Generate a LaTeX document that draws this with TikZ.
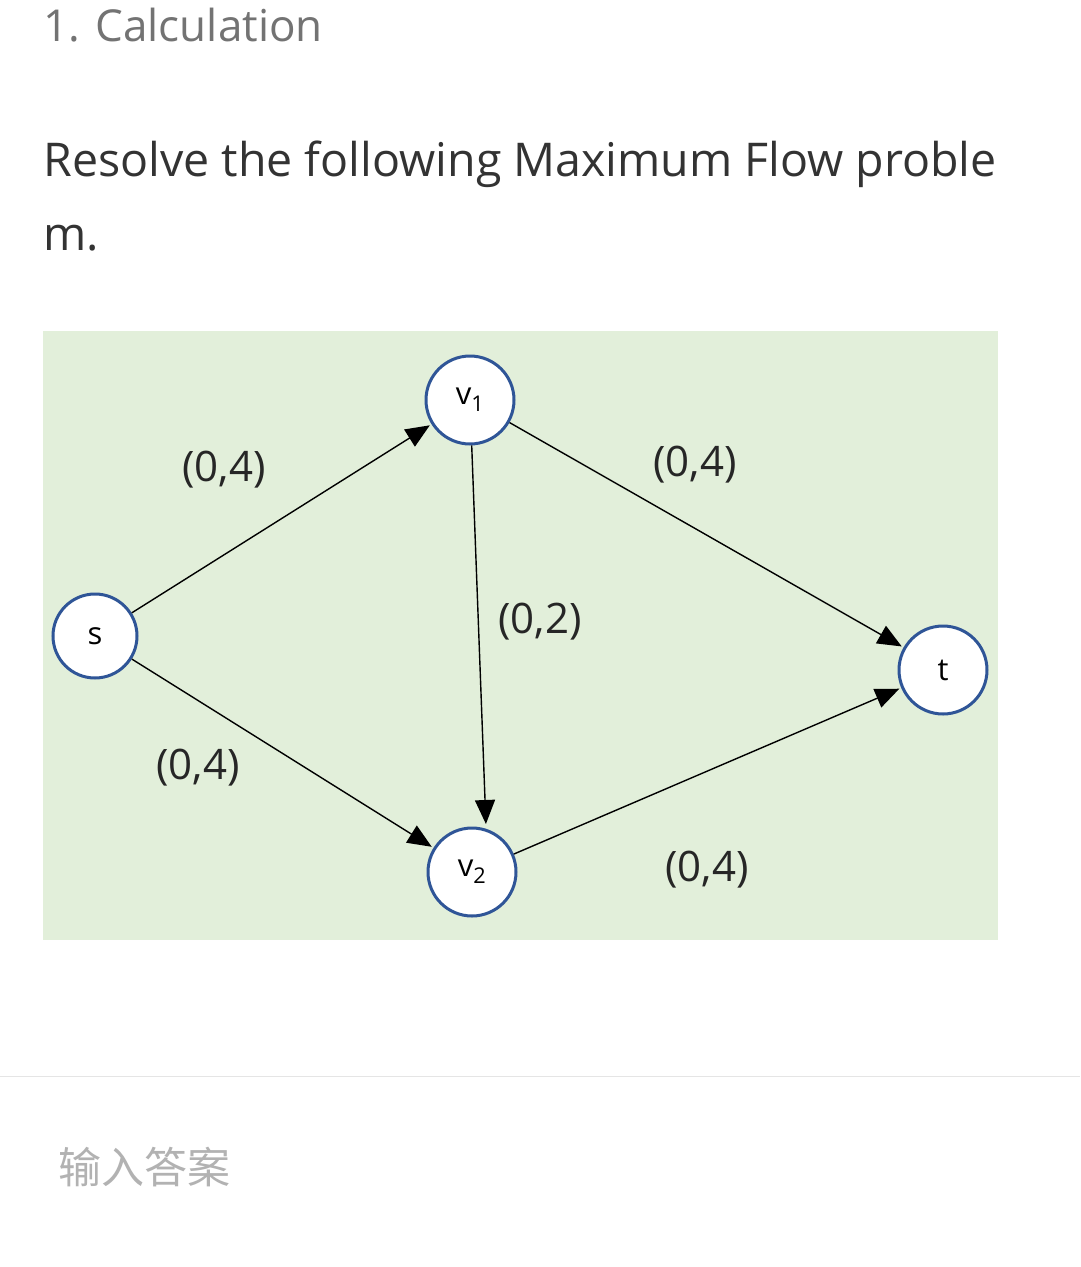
\documentclass[tikz,border=0pt]{standalone}
\usepackage{fontspec}
\setmainfont{Open Sans}
\newfontfamily\cjk{Noto Sans CJK SC}
\usetikzlibrary{arrows.meta}
\definecolor{bg}{HTML}{E2EFDA}
\definecolor{nb}{HTML}{2F5597}
\begin{document}
\begin{tikzpicture}[x=1pt,y=-1pt,
  vtx/.style={circle,draw=nb,line width=3pt,fill=white,minimum size=88pt,inner sep=0pt,font=\fontsize{31}{33}\selectfont},
  edge/.style={line width=1.4pt,-{Triangle[length=24pt,width=20pt]},shorten >=2pt},
  lbl/.style={font=\fontsize{42}{46}\selectfont,text=black!85}]
\useasboundingbox (0,0) rectangle (1080,1267);
\fill[white] (0,0) rectangle (1080,1267);
\node[anchor=west,text=black!55,font=\fontsize{44}{48}\selectfont] (h) at (40,25) {1. Calculation};
\node[anchor=west,text=black!80,font=\fontsize{46.5}{50}\selectfont] (q1) at (40,164) {Resolve the following Maximum Flow proble};
\node[anchor=west,text=black!80,font=\fontsize{46.5}{50}\selectfont] (q2) at (40,238) {m.};
\fill[bg] (43,331) rectangle (998,940);
\node[vtx,minimum size=84pt] (s) at (95,636) {s};
\node[vtx] (v1) at (470,400) {v\textsubscript{1}};
\node[vtx] (v2) at (472,872) {v\textsubscript{2}};
\node[vtx] (t) at (943,670) {t};
\coordinate (v2top) at (486,826);
\draw[edge] (v1) -- (v2top);
\draw[edge] (s) -- (v1);
\draw[edge] (v1) -- (t);
\draw[edge] (s) -- (v2);
\draw[edge] (v2) -- (t);
\node[lbl] (l1) at (224,470) {(0,4)};
\node[lbl] (l2) at (695,465) {(0,4)};
\node[lbl] (l3) at (540,622) {(0,2)};
\node[lbl] (l4) at (198,768) {(0,4)};
\node[lbl] (l5) at (707,870) {(0,4)};
\draw[black!10,line width=1pt] (0,1076) -- (1080,1076);
\node[anchor=west,text=black!30,font=\cjk\fontsize{43}{46}\selectfont] (ans) at (55,1167) {输入答案};
\end{tikzpicture}
\end{document}
